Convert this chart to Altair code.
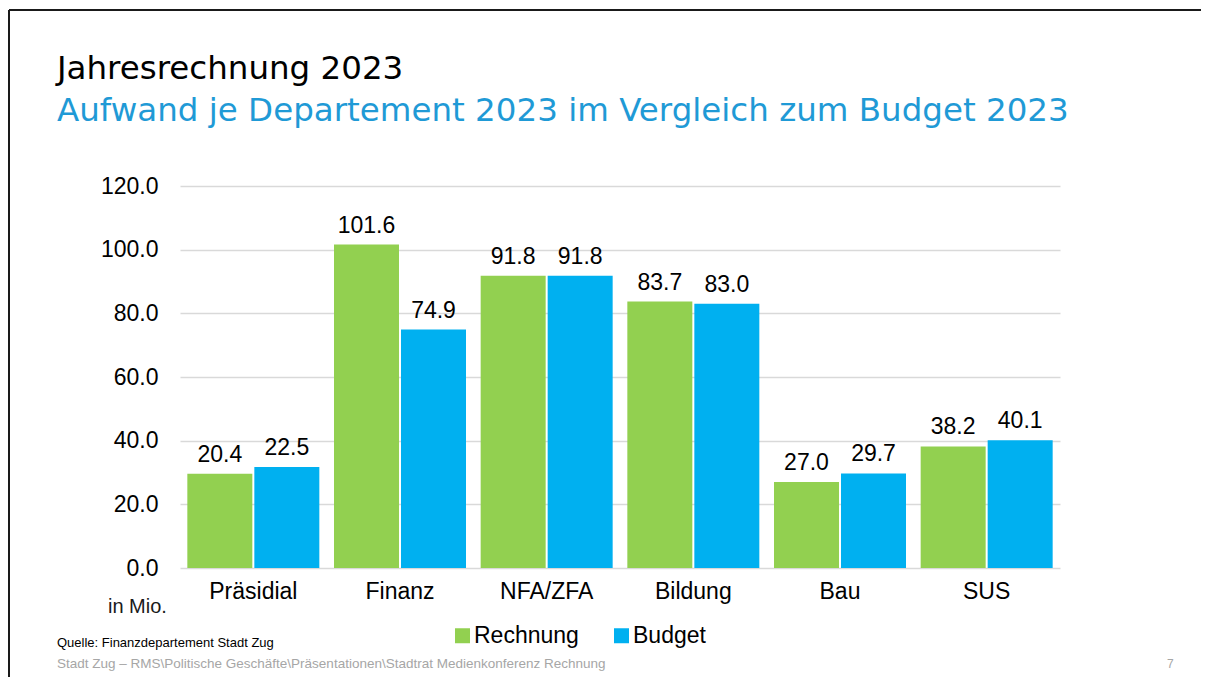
import altair as alt
import pandas as pd

# ---- data ----
categories = ["Präsidial", "Finanz", "NFA/ZFA", "Bildung", "Bau", "SUS"]
series = ["Rechnung", "Budget"]
rechnung_bar = [29.6, 101.6, 91.8, 83.7, 27.0, 38.2]
budget_bar = [31.7, 74.9, 91.8, 83.0, 29.7, 40.1]
rechnung_label = ["20.4", "101.6", "91.8", "83.7", "27.0", "38.2"]
budget_label = ["22.5", "74.9", "91.8", "83.0", "29.7", "40.1"]
y_ticks = [0, 20, 40, 60, 80, 100, 120]
colors = ["#92D050", "#00B0F0"]

title_text = "Jahresrechnung 2023"
subtitle_text = "Aufwand je Departement 2023 im Vergleich zum Budget 2023"
unit_text = "in Mio."
source_text = "Quelle: Finanzdepartement Stadt Zug"
path_text = "Stadt Zug – RMS\\Politische  Geschäfte\\Präsentationen\\Stadtrat Medienkonferenz Rechnung"
page_text = "7"

rows = []
for i, c in enumerate(categories):
    rows.append({"Departement": c, "Serie": "Rechnung", "Wert": rechnung_bar[i], "Label": rechnung_label[i]})
    rows.append({"Departement": c, "Serie": "Budget", "Wert": budget_bar[i], "Label": budget_label[i]})
df = pd.DataFrame(rows)

FONT = "Liberation Sans"
TITLE_FONT = "DejaVu Sans"

base = alt.Chart(df)

x_enc = alt.X(
    "Departement:N",
    sort=categories,
    scale=alt.Scale(paddingInner=0.1, paddingOuter=0.05),
    axis=alt.Axis(
        title=None, labelAngle=0, labelFontSize=23, labelFont=FONT, labelColor="#000000",
        labelPadding=12, ticks=False, domain=False, grid=False,
    ),
)
xoff_enc = alt.XOffset("Serie:N", sort=series, scale=alt.Scale(paddingInner=0.03, paddingOuter=0))
y_enc = alt.Y(
    "Wert:Q",
    scale=alt.Scale(domain=[0, 120], nice=False),
    axis=alt.Axis(
        values=y_ticks, format=".1f", title=None, labelFontSize=23, labelFont=FONT,
        labelColor="#000000", labelPadding=22, ticks=False, domain=False,
        gridColor="#D9D9D9", gridWidth=1.5,
    ),
)

bars = base.mark_bar().encode(
    x=x_enc,
    xOffset=xoff_enc,
    y=y_enc,
    color=alt.Color(
        "Serie:N",
        sort=series,
        scale=alt.Scale(domain=series, range=colors),
        legend=alt.Legend(
            orient="none", legendX=271, legendY=438, direction="horizontal", title=None,
            symbolType="square", symbolSize=225, symbolStrokeWidth=0, labelFontSize=23,
            labelFont=FONT, labelColor="#000000", columnPadding=31, labelOffset=0,
        ),
    ),
)

labels = base.mark_text(baseline="alphabetic", dy=-12, fontSize=23, font=FONT, color="#000000").encode(
    x=alt.X("Departement:N", sort=categories),
    xOffset=alt.XOffset("Serie:N", sort=series),
    y=alt.Y("Wert:Q"),
    text="Label:N",
)


def free_text(txt, x, y, size, color="#000000", align="left", font=FONT):
    return alt.Chart(pd.DataFrame({"t": [txt]})).mark_text(
        align=align, baseline="alphabetic", fontSize=size, font=font, color=color
    ).encode(x=alt.value(x), y=alt.value(y), text="t:N")


title = free_text(title_text, -123, -107, 32.5, font=TITLE_FONT)
subtitle = free_text(subtitle_text, -123, -65, 32.5, color="#1F9AD6", font=TITLE_FONT)
unit = free_text(unit_text, -72, 427, 20, color="#1a1a1a")
source = free_text(source_text, -123, 461, 13)
path = free_text(path_text, -123, 482, 13.5, color="#A6A6A6")
page = free_text(page_text, 987, 482, 12, color="#A6A6A6")

one = pd.DataFrame({"k": [0]})
border_top = alt.Chart(one).mark_rule(color="#1a1a1a", strokeWidth=2).encode(
    x=alt.value(-171), x2=alt.value(1030), y=alt.value(-176)
)
border_left = alt.Chart(one).mark_rule(color="#1a1a1a", strokeWidth=2).encode(
    x=alt.value(-171), y=alt.value(-176), y2=alt.value(500)
)

chart = alt.layer(
    bars, labels, title, subtitle, unit, source, path, page, border_top, border_left
).properties(
    width=880,
    height=382,
    padding={"left": 172, "top": 178, "right": 141, "bottom": 109},
    autosize=alt.AutoSizeParams(type="none"),
    background="white",
).configure_view(stroke=None)

chart.save("out.html", embed_options={"renderer": "svg", "actions": False})
